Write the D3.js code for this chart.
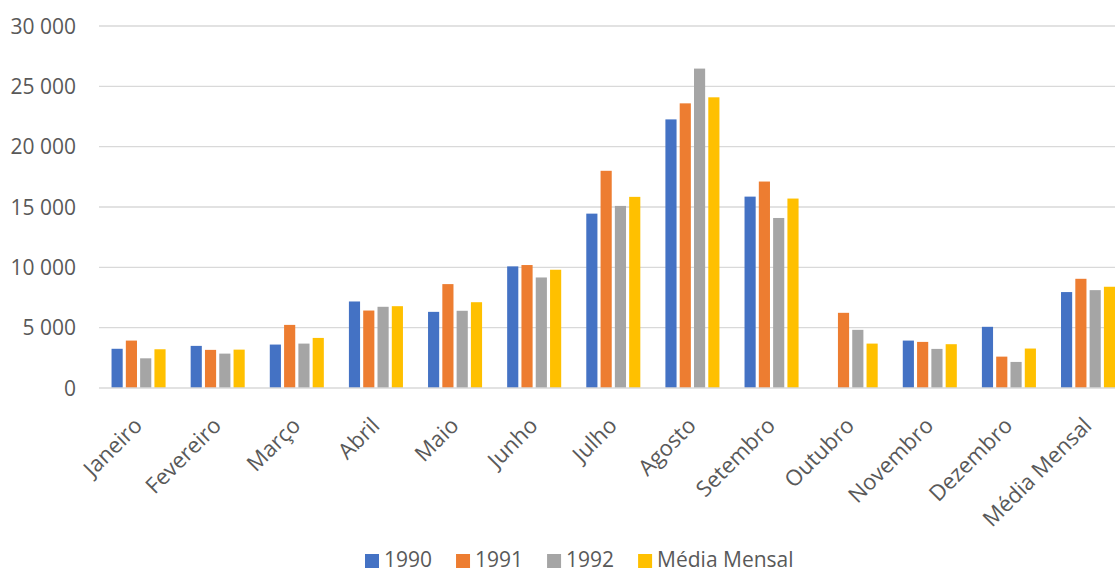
<!DOCTYPE html>
<html>
<head>
    <meta charset="utf-8">
    <script src="https://d3js.org/d3.v7.min.js"></script>
    <style>
        body { margin: 0; background: #fff; }
        .lbl { font-family: 'Open Sans', sans-serif; font-size: 21px; fill: #595959; }
        .xlbl { font-family: 'Open Sans', sans-serif; font-size: 22px; fill: #595959; }
    </style>
</head>
<body>
<svg id="chart" width="1115" height="574"></svg>
<script>
    const months = ["Janeiro", "Fevereiro", "Março", "Abril", "Maio", "Junho", "Julho",
        "Agosto", "Setembro", "Outubro", "Novembro", "Dezembro", "Média Mensal"];
    const seriesNames = ["1990", "1991", "1992", "Média Mensal"];
    const colors = ["#4472C4", "#ED7D31", "#A5A5A5", "#FFC000"];

    const v1990 = [3250, 3490, 3600, 7170, 6310, 10080, 14450, 22260, 15860, null, 3930, 5070, 7950];
    const v1991 = [3930, 3160, 5230, 6420, 8610, 10190, 18000, 23590, 17110, 6230, 3820, 2600, 9050];
    const v1992 = [2460, 2850, 3680, 6730, 6400, 9160, 15090, 26470, 14090, 4820, 3240, 2160, 8110];
    const vMedia = [3210, 3180, 4150, 6780, 7110, 9800, 15840, 24090, 15700, 3680, 3630, 3270, 8390];
    const yTicks = [0, 5000, 10000, 15000, 20000, 25000, 30000];

    const allSeries = [v1990, v1991, v1992, vMedia];

    const svg = d3.select("#chart");
    const plotLeft = 99, plotRight = 1127.6, plotTop = 26, plotBottom = 388;

    const x0 = d3.scaleBand().domain(months).range([plotLeft, plotRight]).paddingInner(0.317).paddingOuter(0.1585);
    const x1 = d3.scaleBand().domain(seriesNames).range([0, x0.bandwidth()]).paddingInner(0.22);
    const y = d3.scaleLinear().domain([0, 30000]).range([plotBottom, plotTop]);

    const fmt = v => d3.format(",")(v).replace(/,/g, " ");

    // gridlines
    svg.append("g").selectAll("line")
        .data(yTicks.filter(t => t > 0))
        .enter().append("line")
        .attr("x1", plotLeft).attr("x2", 1115)
        .attr("y1", d => y(d)).attr("y2", d => y(d))
        .attr("stroke", "#d9d9d9").attr("stroke-width", 1.3);

    // y labels
    svg.append("g").selectAll("text")
        .data(yTicks)
        .enter().append("text")
        .attr("class", "lbl")
        .attr("text-anchor", "end")
        .attr("x", 76)
        .attr("y", d => y(d))
        .attr("dy", "0.36em")
        .text(fmt);

    // bars
    const groups = svg.append("g").selectAll("g")
        .data(months)
        .enter().append("g")
        .attr("transform", d => `translate(${x0(d)},0)`);

    groups.selectAll("rect")
        .data((m, i) => allSeries
            .map((s, j) => ({ key: seriesNames[j], value: s[i], color: colors[j] }))
            .filter(d => d.value != null))
        .enter().append("rect")
        .attr("x", d => x1(d.key))
        .attr("width", x1.bandwidth())
        .attr("y", d => y(d.value))
        .attr("height", d => y(0) - y(d.value))
        .attr("fill", d => d.color);

    // baseline
    svg.append("line")
        .attr("x1", plotLeft).attr("x2", 1115)
        .attr("y1", y(0)).attr("y2", y(0))
        .attr("stroke", "#d9d9d9").attr("stroke-width", 1.5);

    // x labels
    svg.append("g").selectAll("text")
        .data(months)
        .enter().append("text")
        .attr("class", "xlbl")
        .attr("text-anchor", "end")
        .attr("transform", d => `translate(${x0(d) + x0.bandwidth() / 2 + 5},${y(0) + 39}) rotate(-45)`)
        .text(d => d);

    // legend
    const legend = svg.append("g");
    let lx = 365;
    seriesNames.forEach((name, i) => {
        legend.append("rect")
            .attr("x", lx).attr("y", 554)
            .attr("width", 14).attr("height", 14)
            .attr("fill", colors[i]);
        const t = legend.append("text")
            .attr("class", "lbl")
            .attr("x", lx + 19).attr("y", 567)
            .text(name);
        lx += 19 + t.node().getComputedTextLength() + 24;
    });
</script>
</body>
</html>
